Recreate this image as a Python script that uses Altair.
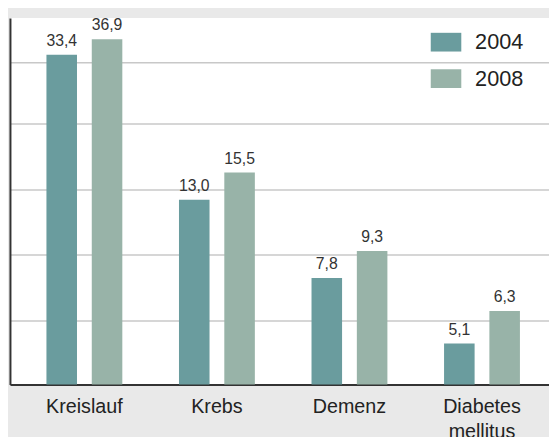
import altair as alt
import pandas as pd

categories = ["Kreislauf", "Krebs", "Demenz", "Diabetes mellitus"]
years = ["2004", "2008"]
values_2004 = [33.4, 13.0, 7.8, 5.1]
values_2008 = [36.9, 15.5, 9.3, 6.3]
colors = ["#6a9c9e", "#98b3a8"]
grid_values = [5.91, 9.09, 13.87, 21.3, 31.8]

rows = []
for c, a, b in zip(categories, values_2004, values_2008):
    rows.append({"cat": c, "year": "2004", "value": a})
    rows.append({"cat": c, "year": "2008", "value": b})
df = pd.DataFrame(rows)

FONT = "Liberation Sans"

x = alt.X(
    "cat:N",
    sort=categories,
    scale=alt.Scale(paddingInner=0, paddingOuter=0.0335, align=0.917),
    axis=alt.Axis(
        title=None,
        labelAngle=0,
        labelFontSize=20,
        labelColor="#222222",
        labelFont=FONT,
        labelPadding=12,
        labelLineHeight=26,
        labelExpr="split(datum.label, ' ')",
        ticks=False,
        domainColor="#333333",
        domainWidth=2,
        grid=False,
    ),
)
xoff = alt.XOffset(
    "year:N", sort=years, scale=alt.Scale(paddingInner=0.326, paddingOuter=0.625)
)
y = alt.Y(
    "value:Q",
    scale=alt.Scale(type="log", domain=[3.9, 42.4], clamp=True),
    axis=alt.Axis(
        title=None,
        values=grid_values,
        labels=False,
        ticks=False,
        grid=True,
        gridColor="#c8c8c8",
        gridWidth=1.5,
        domainColor="#333333",
        domainWidth=2,
    ),
)

bars = alt.Chart(df).mark_bar().encode(
    x=x,
    xOffset=xoff,
    y=y,
    color=alt.Color(
        "year:N",
        scale=alt.Scale(domain=years, range=colors),
        legend=alt.Legend(
            title=None,
            orient="none",
            legendX=427,
            legendY=9,
            symbolType="M-1,-0.613H1V0.613H-1Z",
            symbolSize=961,
            symbolStrokeWidth=0,
            symbolOpacity=1,
            labelFontSize=22,
            labelFont=FONT,
            labelColor="#222222",
            labelOffset=14,
            rowPadding=10,
            padding=0,
        ),
    ),
)

labels = (
    alt.Chart(df)
    .transform_calculate(lbl="replace(format(datum.value, '.1f'), '.', ',')")
    .mark_text(baseline="bottom", dy=-6, fontSize=16, font=FONT, color="#333333")
    .encode(x=x, xOffset=xoff, y=y, text="lbl:N")
)

chart = (
    alt.layer(bars, labels)
    .properties(
        width=547,
        height=372,
        background="#e9e9e9",
        padding={"left": 2, "top": 7, "right": 0, "bottom": 50},
        autosize=alt.AutoSizeParams(type="none"),
    )
    .configure_view(stroke=None, fill="white")
)

chart.save("out.html", embed_options={"renderer": "svg", "actions": False})
